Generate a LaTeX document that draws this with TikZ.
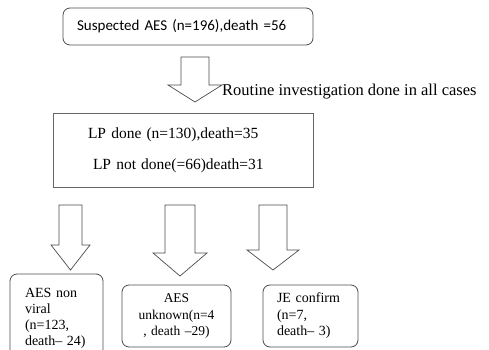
\documentclass[tikz,border=0pt]{standalone}
\usepackage{fontspec}
\setmainfont{Liberation Serif}
\newfontfamily\calibrifont{Carlito}
% outline of a fat downward arrow: top point, shaft half, head half, length, head length
\newcommand{\fatarrow}[5]{\draw[fatarrow] (#1) ++(-#2,0) -- ++(0,#4-#5) -- ++(#2-#3,0)
  -- ++(#3,#5) -- ++(#3,-#5) -- ++(#2-#3,0) -- ++(0,#5-#4) -- cycle;}
\begin{document}
\begin{tikzpicture}[x=1pt,y=-1pt,
  roundbox/.style={draw=black!70,rounded corners=7pt,line width=0.8pt,inner ysep=0pt},
  plainbox/.style={draw=black!60,line width=0.8pt,inner ysep=0pt},
  fatarrow/.style={draw=black!70,line width=0.7pt,fill=white},
  every node/.style={font=\fontsize{14}{16}\selectfont}]
\clip (0,0) rectangle (489,350);
\node[roundbox,minimum width=250pt,minimum height=37pt,inner xsep=14pt,
  text width=222pt,align=left,font=\calibrifont\fontsize{15}{18}\selectfont]
  (suspect) at (188,26.5) {Suspected AES (n=196),death =56};
\node[plainbox,minimum width=260pt,minimum height=74pt,inner xsep=35pt,
  text width=190pt,align=left,font=\fontsize{15.5}{18}\selectfont]
  (lp) at (183,150) {LP done (n=130),death=35\\[13pt]\hspace*{5pt}LP not done(=66)death=31};
\node[anchor=west,inner sep=0pt,font=\fontsize{16.5}{19}\selectfont]
  (routine) at (222,92) {Routine investigation done in all cases};
\node[roundbox,minimum width=93pt,minimum height=88pt,inner xsep=15pt,
  text width=63pt,align=left] (nonviral) at (56.5,318)
  {AES non\\viral\\(n=123,\\death– 24)};
\node[roundbox,minimum width=109pt,minimum height=62pt,inner xsep=4pt,
  text width=101pt,align=center,font=\fontsize{13.5}{16.5}\selectfont]
  (unknown) at (176.5,316) {AES\\unknown(n=4\\, death –29)};
\node[roundbox,minimum width=95pt,minimum height=62pt,inner xsep=14pt,
  text width=67pt,align=left,font=\fontsize{14}{16.5}\selectfont]
  (je) at (310.5,316) {JE confirm\\(n=7,\\death– 3)};
% arrows
\coordinate (arrtop) at (195,57);
\coordinate (arrA) at (70.5,205);
\coordinate (arrB) at (180,205);
\coordinate (arrC) at (273,205);
\fatarrow{arrtop}{14}{27}{45}{17}
\fatarrow{arrA}{11.5}{19.5}{65}{25}
\fatarrow{arrB}{15}{27}{71}{23}
\fatarrow{arrC}{14}{26}{65}{20}
\end{tikzpicture}
\end{document}
